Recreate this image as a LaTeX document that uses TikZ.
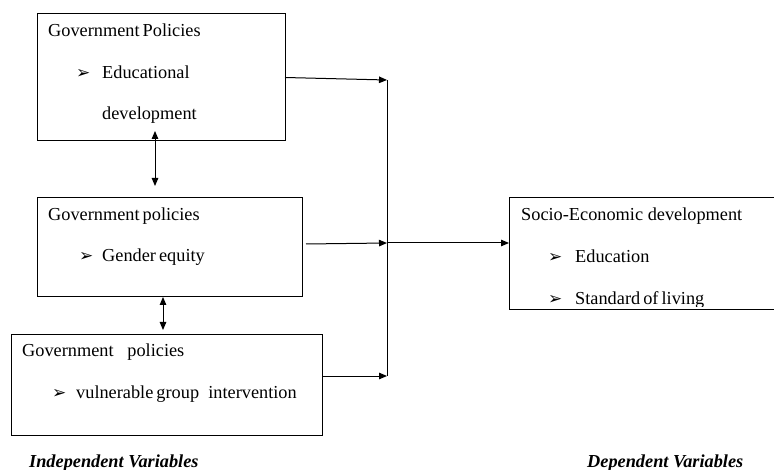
\documentclass[tikz,border=0pt]{standalone}
\usepackage{fontspec}
\setmainfont{Liberation Serif}
\newfontfamily\dv{DejaVu Sans}
\usetikzlibrary{arrows.meta}
\begin{document}
\begin{tikzpicture}[x=1pt,y=-1pt,
  box/.style={draw, line width=1pt, anchor=north west, inner sep=0pt, outer sep=0pt},
  txt/.style={anchor=base west, inner sep=0pt, font=\fontsize{18.3}{22}\selectfont},
  lab/.style={anchor=base west, inner sep=0pt, font=\fontsize{18.3}{22}\selectfont\bfseries\itshape},
  bul/.style={anchor=base west, inner sep=0pt, font=\fontsize{17}{20}\dv},
  arr/.style={line width=1pt, -{Triangle[length=8pt,width=6.5pt]}},
  darr/.style={line width=1pt, {Triangle[length=8pt,width=6.5pt]}-{Triangle[length=8pt,width=6.5pt]}},
  ln/.style={line width=1pt}]
\useasboundingbox (0,0) rectangle (774,470);
% boxes
\node[box, minimum width=248pt, minimum height=127pt] (b1) at (37,14) {};
\node[box, minimum width=265pt, minimum height=99pt] (b2) at (37,198) {};
\node[box, minimum width=311pt, minimum height=100pt] (b3) at (11,335) {};
\node[box, minimum width=266pt, minimum height=112pt] (b4) at (509,198) {};
% box 1 text
\node[txt] (t1) at (48,37) {Government\,Policies};
\node[bul] (u1) at (76,79) {➢};
\node[txt] (t1a) at (102,79) {Educational};
\node[txt] (t1b) at (102,120) {development};
% box 2 text
\node[txt] (t2) at (48,221) {Government\,policies};
\node[bul] (u2) at (79,262) {➢};
\node[txt] (t2a) at (102,262) {Gender\,equity};
% box 3 text
\node[txt] (t3) at (22,357) {Government\ \ \ policies};
\node[bul] (u3) at (52,399) {➢};
\node[txt] (t3a) at (76,399) {vulnerable\,group\ \ intervention};
% box 4 text
\node[txt] (t4) at (521,221) {Socio-Economic development};
\node[bul] (u4) at (548,263) {➢};
\node[txt] (t4a) at (575,263) {Education};
\begin{scope}
\clip (509,198) rectangle (774,307);
\node[bul] (u5) at (548,305) {➢};
\node[txt] (t4b) at (575,305) {Standard\,of\,living};
\end{scope}
% labels
\node[lab] (l1) at (29,467) {Independent Variables};
\node[lab] (l2) at (587,467) {Dependent Variables};
% connectors
\coordinate (v1) at (387,80);
\coordinate (v2) at (387,243);
\coordinate (v3) at (387,376);
\coordinate (s2) at (306,244);
\draw[ln] (v1) -- (v3);
\draw[arr] (b1.east) -- (v1);
\draw[arr] (s2) -- (v2);
\draw[arr] ([yshift=9pt]b3.east) -- (v3);
\draw[arr] (v2) -- (b4.west |- v2);
\coordinate (d1a) at (155,131);
\coordinate (d1b) at (155,186);
\coordinate (d2a) at (163,297);
\coordinate (d2b) at (163,330);
\draw[darr] (d1a) -- (d1b);
\draw[darr] (d2a) -- (d2b);
\end{tikzpicture}
\end{document}
